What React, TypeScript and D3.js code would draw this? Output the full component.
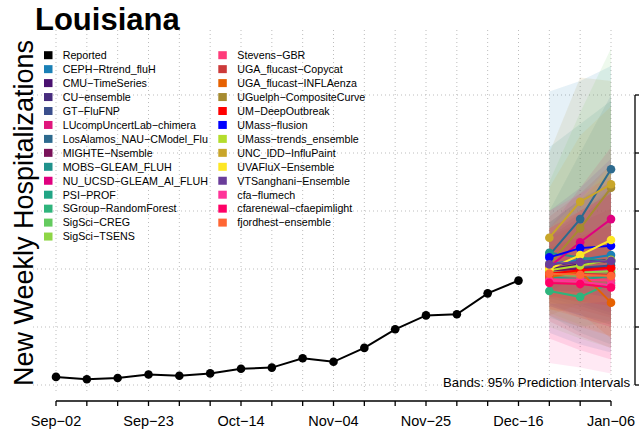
import React from "react";
import * as d3 from "d3";

const reportedDates = ["2024-09-02","2024-09-09","2024-09-16","2024-09-23","2024-09-30","2024-10-07","2024-10-14","2024-10-21","2024-10-28","2024-11-04","2024-11-11","2024-11-18","2024-11-25","2024-12-02","2024-12-09","2024-12-16"];
const reportedValues = [7, 5, 6, 9, 8, 10, 14, 15, 23, 20, 32, 48, 60, 61, 79, 90];

const forecastDates = ["2024-12-23", "2024-12-30", "2025-01-06"];

const modelNames = [
  "CEPH−Rtrend_fluH","CMU−TimeSeries","CU−ensemble","GT−FluFNP","LUcompUncertLab−chimera",
  "LosAlamos_NAU−CModel_Flu","MIGHTE−Nsemble","MOBS−GLEAM_FLUH","NU_UCSD−GLEAM_AI_FLUH","PSI−PROF",
  "SGroup−RandomForest","SigSci−CREG","SigSci−TSENS","Stevens−GBR","UGA_flucast−Copycat",
  "UGA_flucast−INFLAenza","UGuelph−CompositeCurve","UM−DeepOutbreak","UMass−flusion","UMass−trends_ensemble",
  "UNC_IDD−InfluPaint","UVAFluX−Ensemble","VTSanghani−Ensemble","cfa−flumech","cfarenewal−cfaepimlight","fjordhest−ensemble"
];
const modelColors = [
  "#1a80b6","#4a1270","#482d7e","#3b4f8c","#e0167c",
  "#2d6a8e","#7a1259","#20928c","#e0007f","#21a585",
  "#2fb47c","#64cb5f","#8ed646","#ff3b7a","#cc3a3a",
  "#e66101","#a68b30","#ff0000","#0000ff","#b4dd2c",
  "#c9a62a","#fde725","#6a3d9a","#ff3399","#ff0066","#ff6633"
];
const modelMedians = [
  [104,108,112],[100,104,107],[103,106,108],[98,101,103],[96,98,100],
  [112,143,186],[99,100,101],[114,110,106],[102,123,143],[93,91,94],
  [81,76,88],[95,94,96],[97,97,98],[91,91,90],[97,96,95],
  [93,98,71],[104,135,170],[96,99,101],[110,118,120],[99,103,108],
  [127,158,173],[100,112,125],[104,106,107],[90,89,86],[88,87,84],[96,95,94]
];
const modelLower = [
  [45,35,28],[75,68,60],[78,70,62],[70,60,52],[68,58,50],
  [80,95,110],[72,65,58],[60,45,35],[75,85,95],[68,60,55],
  [58,50,55],[50,40,32],[62,52,42],[66,58,50],[55,42,32],
  [65,62,40],[60,70,85],[76,72,68],[82,80,75],[65,58,52],
  [90,100,105],[70,70,72],[68,60,52],[19,15,10],[40,30,22],[60,50,42]
];
const modelUpper = [
  [253,262,275],[128,145,165],[130,148,168],[130,150,170],[128,145,165],
  [150,200,250],[128,140,152],[205,225,245],[135,170,205],[120,128,138],
  [108,110,125],[175,235,290],[140,160,185],[118,128,138],[145,165,190],
  [125,140,115],[200,265,262],[118,128,138],[140,160,175],[140,160,185],
  [170,215,240],[135,160,190],[150,170,195],[150,165,180],[135,150,165],[135,150,165]
];

const yTicks = [0, 50, 100, 150, 200, 250];
const xLabelDates = ["2024-09-02","2024-09-23","2024-10-14","2024-11-04","2024-11-25","2024-12-16","2025-01-06"];

const W = 639, H = 435;
const FONT = "'Liberation Sans', Arial, Helvetica, sans-serif";

export default function App() {
  const parse = d3.utcParse("%Y-%m-%d");
  const fmt = d3.utcFormat("%b");
  const fmtD = d3.utcFormat("%d");
  const x = d3.scaleUtc().domain([parse("2024-09-02")!, parse("2025-01-06")!]).range([56, 611]);
  const y = d3.scaleLinear().domain([0, 250]).range([385, 95]);
  const allWeeks = d3.utcMonday.range(parse("2024-09-02")!, d3.utcDay.offset(parse("2025-01-06")!, 1));

  const rep = reportedDates.map((d, i) => ({ x: x(parse(d)!), y: y(reportedValues[i]) }));
  const fd = forecastDates.map((d) => x(parse(d)!));
  const line = d3.line<{ x: number; y: number }>().x((d) => d.x).y((d) => d.y);
  const area = d3.area<number>().x((_, i) => fd[i]);

  const legendItems = [{ name: "Reported", color: "#000000" }, ...modelNames.map((n, i) => ({ name: n, color: modelColors[i] }))];
  const rowH = 13.95;

  return (
    <svg width={W} height={H} style={{ position: "absolute", left: 0, top: 0, background: "#fff" }} fontFamily={FONT}>
      <rect x={0} y={0} width={W} height={H} fill="#fff" />
      <g stroke="#bdbdbd" strokeWidth={1} strokeDasharray="1,3">
        {allWeeks.map((d, i) => (
          <line key={"v" + i} x1={x(d)} x2={x(d)} y1={30} y2={394} />
        ))}
        {yTicks.map((t) => (
          <line key={"h" + t} x1={33} x2={634} y1={y(t)} y2={y(t)} />
        ))}
      </g>
      <g>
        {modelNames.map((n, i) => (
          <path
            key={"b" + i}
            d={area.y0((_, k) => y(modelLower[i][k])).y1((_, k) => y(modelUpper[i][k]))([0, 1, 2]) || ""}
            fill={modelColors[i]}
            fillOpacity={0.11}
          />
        ))}
      </g>
      <path d={line(rep) || ""} fill="none" stroke="#000" strokeWidth={2} />
      {rep.map((p, i) => (
        <circle key={"r" + i} cx={p.x} cy={p.y} r={4.3} fill="#000" />
      ))}
      {modelNames.map((n, i) => {
        const pts = modelMedians[i].map((v, k) => ({ x: fd[k], y: y(v) }));
        return (
          <g key={"m" + i}>
            <path d={line(pts) || ""} fill="none" stroke={modelColors[i]} strokeWidth={2} />
            {pts.map((p, k) => (
              <circle key={k} cx={p.x} cy={p.y} r={4.3} fill={modelColors[i]} />
            ))}
          </g>
        );
      })}
      <g stroke="#000" strokeWidth={1.3}>
        <line x1={635} x2={635} y1={y(250)} y2={y(0)} />
        {yTicks.map((t) => (
          <line key={"t" + t} x1={635} x2={642} y1={y(t)} y2={y(t)} />
        ))}
      </g>
      <g stroke="#000" strokeWidth={1.3}>
        <line x1={56} x2={611} y1={401} y2={401} />
        {allWeeks.map((d, i) => (
          <line key={"xt" + i} x1={x(d)} x2={x(d)} y1={401} y2={406} />
        ))}
      </g>
      {xLabelDates.map((d) => {
        const dt = parse(d)!;
        return (
          <text key={d} x={x(dt)} y={426} textAnchor="middle" fontSize={14.5} fill="#000">
            {fmt(dt) + "−" + fmtD(dt)}
          </text>
        );
      })}
      <text x={630} y={387} textAnchor="end" fontSize={13.2} fill="#000">Bands: 95% Prediction Intervals</text>
      <text x={35} y={30} fontSize={31} fontWeight="bold" fill="#000">Louisiana</text>
      <text transform="translate(33,213) rotate(-90)" textAnchor="middle" fontSize={27} fill="#000">New Weekly Hospitalizations</text>
      {legendItems.map((it, i) => {
        const col = i < 14 ? 0 : 1;
        const row = col === 0 ? i : i - 14;
        const sx = col === 0 ? 44 : 218.3;
        const tx = col === 0 ? 62.7 : 237.3;
        const cy = 55.2 + row * rowH;
        return (
          <g key={"l" + i}>
            <rect x={sx} y={cy - 4} width={8.5} height={8} fill={it.color} />
            <text x={tx} y={cy + 3.8} fontSize={10.7} fill="#000">{it.name}</text>
          </g>
        );
      })}
    </svg>
  );
}
